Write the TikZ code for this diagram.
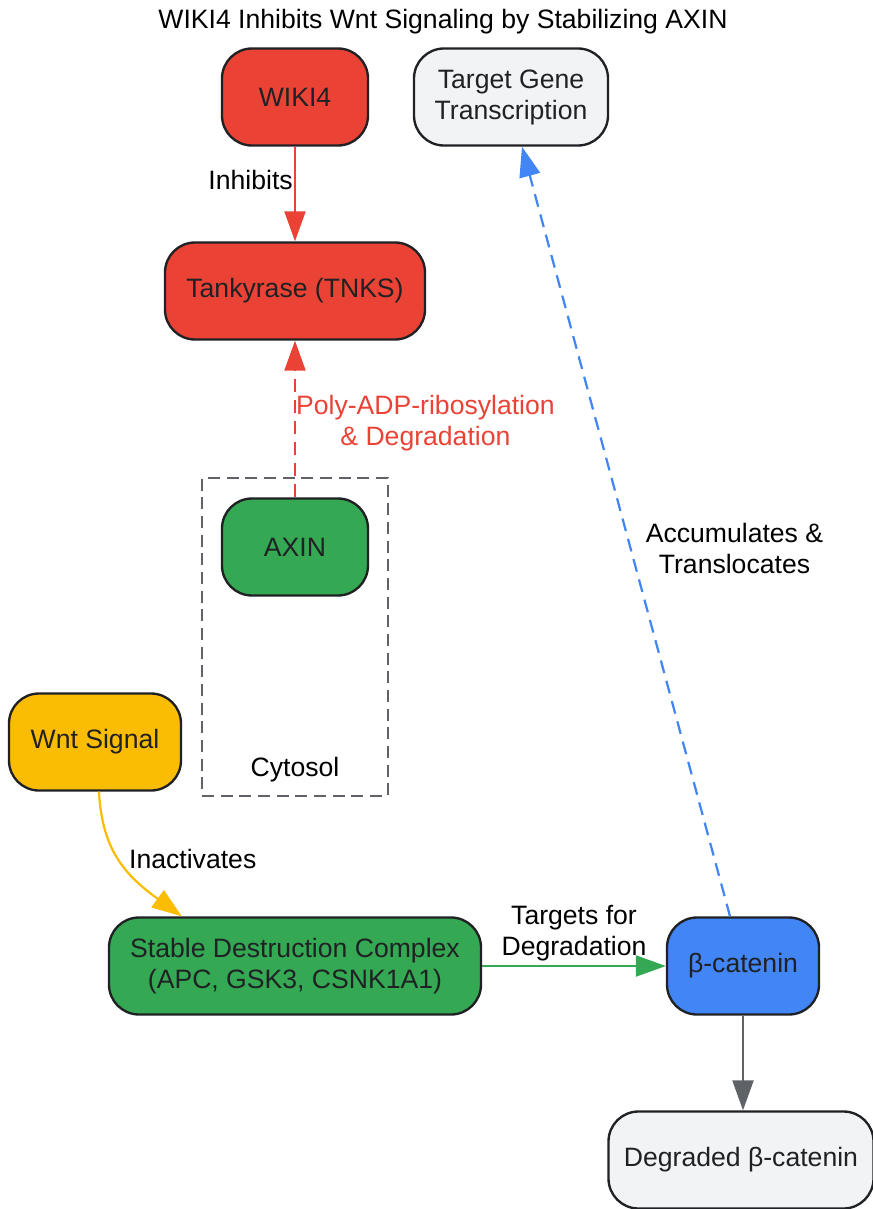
\documentclass[tikz,border=0pt]{standalone}
\usepackage{fontspec}
\setmainfont{Liberation Sans}
\usetikzlibrary{arrows.meta}

\definecolor{wikired}{HTML}{EA4335}
\definecolor{wikigreen}{HTML}{34A853}
\definecolor{wikiyellow}{HTML}{FBBC04}
\definecolor{wikiblue}{HTML}{4285F4}
\definecolor{wikilight}{HTML}{F1F3F4}
\definecolor{wikigray}{HTML}{5F6368}
\definecolor{wikidark}{HTML}{202124}

\tikzset{
    box/.style={draw=wikidark, line width=2pt, rounded corners=0.9cm, align=center,
        text=wikidark, inner sep=0pt, minimum height=2.91cm},
    link/.style={line width=1.9pt, -{Triangle[length=0.9cm, width=0.63cm]}},
    dashlink/.style={link, dash pattern=on 0.39cm off 0.24cm},
    lbl/.style={align=center, inner sep=1pt, text=black}
}

\begin{document}
\begin{tikzpicture}[x=0.03cm, y=-0.03cm, font=\fontsize{22.7}{26.5}\selectfont]
    \useasboundingbox (0,0) rectangle (873,1209);

    % Title
    \node[lbl] (title) at (443,22) {WIKI4 Inhibits Wnt Signaling by Stabilizing AXIN};

    % Cytosol frame
    \node[draw=wikigray, line width=1.9pt, dash pattern=on 0.36cm off 0.2cm,
        minimum width=5.58cm, minimum height=9.54cm, inner sep=0pt] (cyto) at (295,637) {};
    \node[lbl, anchor=south] (cytolbl) at ([yshift=0.42cm]cyto.south) {Cytosol};

    % Nodes
    \node[box, fill=wikired, minimum width=4.38cm] (wiki) at (295,97) {WIKI4};
    \node[box, fill=wikilight, minimum width=5.82cm] (tgt) at (511,97) {Target Gene\\Transcription};
    \node[box, fill=wikired, minimum width=7.8cm] (tnks) at (295,291) {Tankyrase (TNKS)};
    \node[box, fill=wikigreen, minimum width=4.38cm] (axin) at (295,547) {AXIN};
    \node[box, fill=wikiyellow, minimum width=5.16cm] (wnt) at (95,742) {Wnt Signal};
    \node[box, fill=wikigreen, minimum width=11.16cm] (sdc) at (295,966) {Stable Destruction Complex\\(APC, GSK3, CSNK1A1)};
    \node[box, fill=wikiblue, minimum width=4.56cm] (bcat) at (743,966) {β-catenin};
    \node[box, fill=wikilight, minimum width=7.95cm] (degr) at (741,1160) {Degraded β-catenin};

    % WIKI4 inhibits tankyrase
    \draw[link, wikired] (wiki) -- (tnks) node[lbl, pos=0.35, left] {Inhibits};

    % AXIN degraded by tankyrase
    \draw[dashlink, wikired] (axin) -- (tnks)
        node[lbl, midway, anchor=west, inner sep=0pt, yshift=-0.12cm, text=wikired] {Poly-ADP-ribosylation\\\& Degradation};

    % Wnt inactivates the complex
    \draw[link, wikiyellow] ([xshift=0.12cm]wnt.south) .. controls (102,850) and (125,875) .. ([xshift=2.22cm]sdc.north west)
        node[lbl, pos=0.5, right, xshift=0.2cm, yshift=0.05cm] {Inactivates};

    % Complex targets beta-catenin
    \draw[link, wikigreen] (sdc) -- (bcat) node[lbl, midway, above, inner sep=3pt] {Targets for\\Degradation};

    % Beta-catenin to nucleus
    \draw[dashlink, wikiblue] ([xshift=-0.39cm]bcat.north) -- ([xshift=0.33cm]tgt.south)
        node[lbl, pos=0.48, anchor=west, xshift=0.4cm, yshift=-0.06cm] {Accumulates \&\\Translocates};

    % Beta-catenin degraded
    \draw[link, wikigray] (bcat) -- (degr.north -| bcat);
\end{tikzpicture}
\end{document}
